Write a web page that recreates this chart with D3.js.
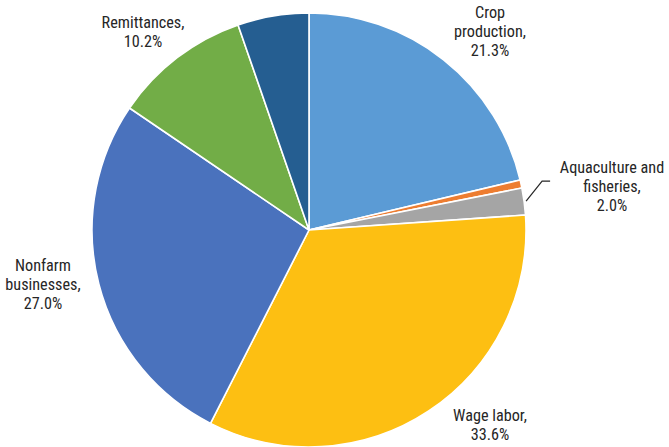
<!DOCTYPE html>
<html>
<head>
<meta charset="utf-8">
<script src="https://cdn.jsdelivr.net/npm/d3@7"></script>
<style>
  html, body { margin: 0; padding: 0; background: #fff; }
  svg text { font-family: "Liberation Sans Narrow", "Roboto Condensed", "Arial Narrow", "Liberation Sans", sans-serif; font-size: 16.2px; fill: #262626; }
</style>
</head>
<body>
<svg id="chart" width="669" height="447"></svg>
<script>
// Income sources, share of total (%)
const categories = ["Crop production", "Livestock", "Aquaculture and fisheries", "Wage labor", "Nonfarm businesses", "Remittances", "Other"];
const shares = [21.3, 0.6, 2.0, 33.6, 27.0, 10.2, 5.3];
const labelLines = [
  ["Crop", "production,", "21.3%"],
  null,
  ["Aquaculture and", "fisheries,", "2.0%"],
  ["Wage labor,", "33.6%"],
  ["Nonfarm", "businesses,", "27.0%"],
  ["Remittances,", "10.2%"],
  null
];
const colors = ["#5B9BD5", "#ED7D31", "#A5A5A5", "#FDBF12", "#4A72BD", "#72AD47", "#255E91"];

// label placement: centre x, first-line y (px), line step
const labelPos = {
  0: { x: 490, y: 18 },
  2: { x: 612, y: 173 },
  3: { x: 490, y: 421 },
  4: { x: 43, y: 271 },
  5: { x: 143, y: 28 }
};
const lineStep = 19;

const svg = d3.select("#chart");
const cx = 309, cy = 230, radius = 217;
const g = svg.append("g").attr("transform", `translate(${cx},${cy})`);

const data = categories.map((c, i) => ({ name: c, value: shares[i], i }));
const pie = d3.pie().sort(null).value(d => d.value);
const arc = d3.arc().innerRadius(0).outerRadius(radius);
const arcs = pie(data);

g.selectAll("path.slice")
  .data(arcs)
  .join("path")
  .attr("class", "slice")
  .attr("d", arc)
  .attr("fill", d => colors[d.data.i])
  .attr("stroke", "#fff")
  .attr("stroke-width", 1.6)
  .attr("stroke-linejoin", "round");

// leader line for the small aquaculture slice
const aq = arcs[2];
const midA = (aq.startAngle + aq.endAngle) / 2;
const p0 = [Math.sin(midA) * (radius + 2), -Math.cos(midA) * (radius + 2)];
const p1 = [p0[0] + 16, p0[1] - 20];
const p2 = [p1[0] + 8, p1[1]];
g.append("polyline")
  .attr("points", [p0, p1, p2].map(p => p.join(",")).join(" "))
  .attr("fill", "none")
  .attr("stroke", "#262626")
  .attr("stroke-width", 1.2);

Object.keys(labelPos).forEach(k => {
  const lines = labelLines[k];
  const pos = labelPos[k];
  const t = svg.append("text").attr("text-anchor", "middle");
  lines.forEach((ln, j) => {
    t.append("tspan").attr("x", pos.x).attr("y", pos.y + j * lineStep).text(ln);
  });
});
</script>
</body>
</html>
